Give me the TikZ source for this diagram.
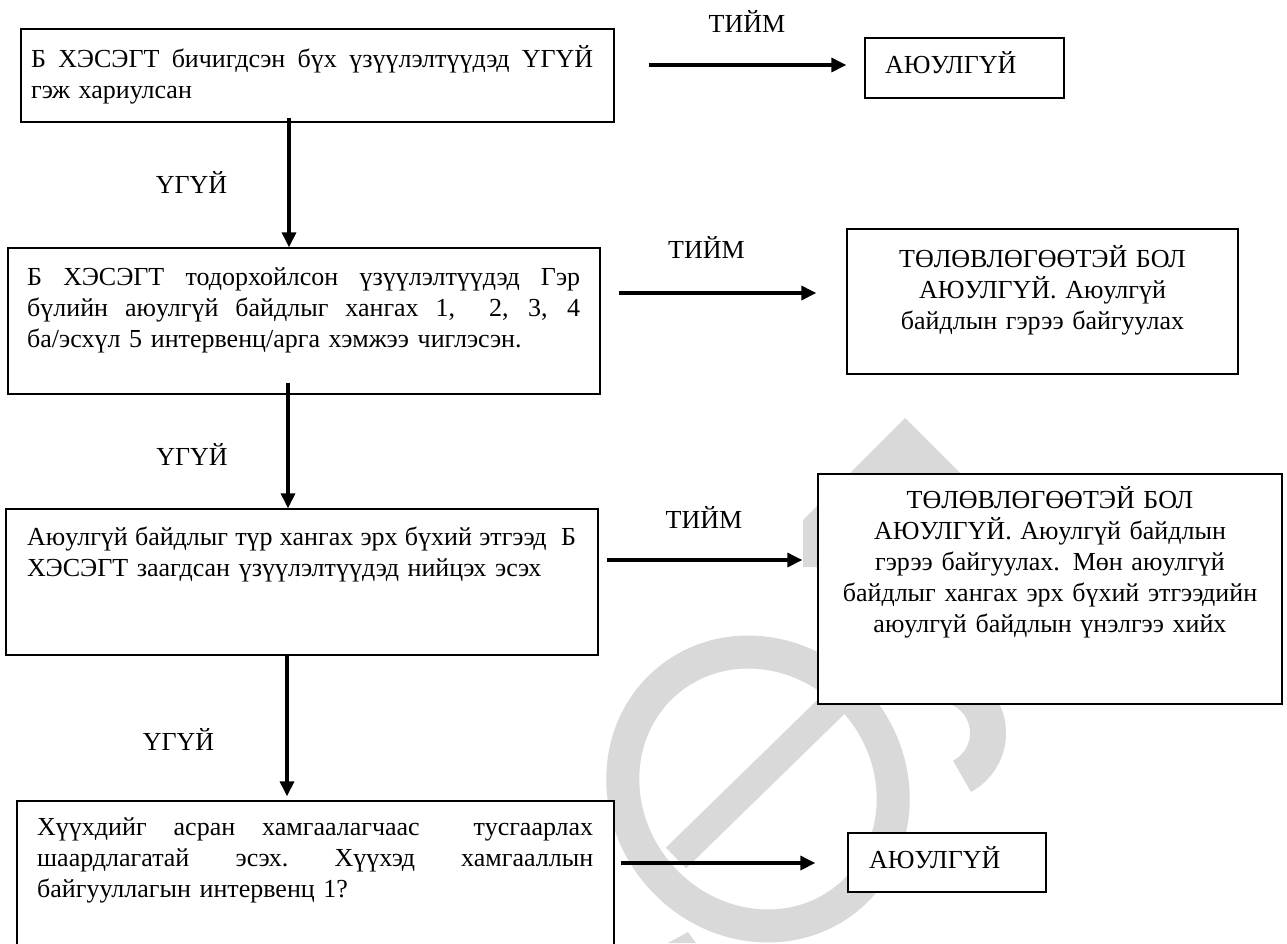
\documentclass[tikz,border=0pt]{standalone}
\usepackage{fontspec}
\setmainfont{Liberation Serif}
\usetikzlibrary{arrows.meta}
\definecolor{wmgray}{HTML}{D9D9D9}
\newcommand{\jline}[2]{\leavevmode\hbox to #1{\spaceskip=0.25em plus 1fil minus 0.08em\relax
  \xspaceskip=0.25em plus 1fil minus 0.08em\relax #2}}
\begin{document}
\begin{tikzpicture}[x=1pt,y=-1pt,
  box/.style={draw=black, line width=1.3pt, fill=white, rectangle, inner sep=0pt},
  txt/.style={inner sep=0pt, font=\fontsize{26}{31}\selectfont},
  ltxt/.style={txt, text width=600pt, align=left, anchor=base west},
  ctxt/.style={txt, text width=460pt, align=center, anchor=base},
  lbl/.style={txt, anchor=base},
  arr/.style={line width=3.2pt, -{Triangle[length=15pt,width=14pt]}},
  wm/.style={draw=wmgray, line cap=butt}]
\useasboundingbox (0,0) rectangle (1287,943);
\fill[white] (0,0) rectangle (1287,943);

% watermark
\fill[wmgray] (905,418) -- (962,475) -- (962,570) -- (803,567) -- (803,520) -- cycle;
\draw[wm, line width=33pt, rotate around={40:(758,789)}] (758,789) ellipse [x radius=131, y radius=141];
\draw[wm, line width=29pt] (676,858) -- (838,700);
\draw[wm, line width=36pt] (939,733) ++(-90:49) arc[start angle=-90, end angle=62, radius=49];
\fill[wmgray] (668,943) -- (688,932) -- (696,943) -- cycle;

% boxes
\node[box, minimum width=593pt, minimum height=93pt]  (b1)  at (317.5,75.5) {};
\node[box, minimum width=199pt, minimum height=60pt]  (a1)  at (964.5,68) {};
\node[box, minimum width=592pt, minimum height=146pt] (b2)  at (304,321) {};
\node[box, minimum width=391pt, minimum height=145pt] (b2r) at (1042.5,301.5) {};
\node[box, minimum width=592pt, minimum height=146pt] (b3)  at (302,582) {};
\node[box, minimum width=464pt, minimum height=230pt] (b3r) at (1050,589) {};
\node[box, minimum width=597pt, minimum height=159pt] (b4)  at (315.5,880.5) {};
\node[box, minimum width=198pt, minimum height=59pt]  (a4)  at (947,862.5) {};

% texts
\node[ltxt] (t1) at (31,67) {\jline{562pt}{Б ХЭСЭГТ бичигдсэн бүх үзүүлэлтүүдэд ҮГҮЙ}\\гэж хариулсан};
\node[ltxt] (ta1) at (885,73) {АЮУЛГҮЙ};
\node[ltxt] (t2) at (27,285) {\jline{553pt}{Б ХЭСЭГТ тодорхойлсон үзүүлэлтүүдэд Гэр}\\
\jline{553pt}{бүлийн аюулгүй байдлыг хангах 1,\ \ 2, 3, 4}\\
ба/эсхүл 5 интервенц/арга хэмжээ чиглэсэн.};
\node[ctxt] (t2r) at (1042.5,267) {ТӨЛӨВЛӨГӨӨТЭЙ БОЛ\\АЮУЛГҮЙ. Аюулгүй\\байдлын гэрээ байгуулах};
\node[ltxt] (t3) at (27,545) {\jline{549pt}{Аюулгүй байдлыг түр хангах эрх бүхий этгээд\ \ Б}\\
ХЭСЭГТ заагдсан үзүүлэлтүүдэд нийцэх эсэх};
\node[ctxt] (t3r) at (1050,508) {ТӨЛӨВЛӨГӨӨТЭЙ БОЛ\\АЮУЛГҮЙ. Аюулгүй байдлын\\гэрээ байгуулах. Мөн аюулгүй\\байдлыг хангах эрх бүхий этгээдийн\\аюулгүй байдлын үнэлгээ хийх};
\node[ltxt] (t4) at (37,835) {\jline{556pt}{Хүүхдийг асран хамгаалагчаас\ \ тусгаарлах}\\
\jline{556pt}{шаардлагатай эсэх. Хүүхэд хамгааллын}\\
байгууллагын интервенц 1?};
\node[ltxt] (ta4) at (869,868) {АЮУЛГҮЙ};

% labels
\node[lbl] (y1) at (747,32) {ТИЙМ};
\node[lbl] (y2) at (706.5,258) {ТИЙМ};
\node[lbl] (y3) at (704,528) {ТИЙМ};
\node[lbl] (n1) at (191.5,193) {ҮГҮЙ};
\node[lbl] (n2) at (192,465) {ҮГҮЙ};
\node[lbl] (n3) at (178.5,750) {ҮГҮЙ};

% connectors
\draw[arr] ([xshift=34pt,yshift=10.5pt]b1.east) -- ([xshift=-18pt,yshift=3pt]a1.west);
\draw[arr] ([xshift=18pt,yshift=28pt]b2.east) -- ([xshift=-30pt,yshift=8.5pt]b2r.west);
\draw[arr] ([xshift=8pt,yshift=22pt]b3.east) -- ([xshift=-15pt,yshift=29pt]b3r.west);
\draw[arr] ([xshift=6pt,yshift=17.5pt]b4.east) -- ([xshift=-32pt,yshift=-0.5pt]a4.west);
\draw[arr] ([xshift=-28.5pt,yshift=5pt]b1.south) -- ([xshift=-15pt]b2.north);
\draw[arr] ([xshift=-16pt,yshift=12pt]b2.south) -- ([xshift=-14pt]b3.north);
\draw[arr] ([xshift=-15pt,yshift=2pt]b3.south) -- ([xshift=-28.5pt,yshift=4pt]b4.north);
\end{tikzpicture}
\end{document}
